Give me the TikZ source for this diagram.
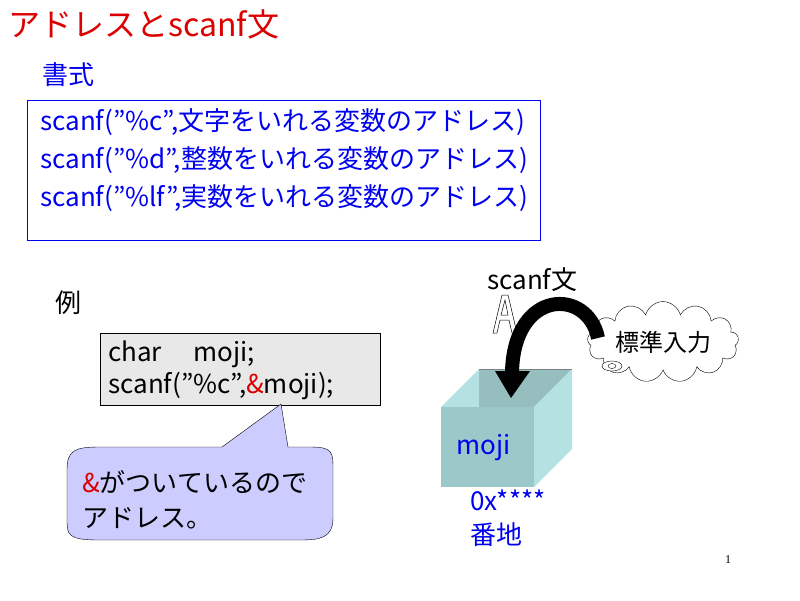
\documentclass[tikz,border=0pt]{standalone}
\usepackage{fontspec}
\setmainfont{Noto Sans CJK JP}
\newfontfamily\numfont{Liberation Serif}
\usepackage{tikz}
\usetikzlibrary{
	shapes.symbols,
	% positioning,
}
\definecolor{slideblue}{RGB}{0,0,240}
\definecolor{slidered}{RGB}{220,0,0}
\definecolor{boxfront}{RGB}{155,200,200}
\definecolor{boxback}{RGB}{150,190,190}
\definecolor{boxside}{RGB}{180,225,225}
\newcommand{\dq}{\symbol{34}}
\tikzstyle{txt} = [anchor=west, inner sep=0pt, font=\fontsize{26}{30}\selectfont]
\tikzstyle{bluetxt} = [txt, text=slideblue]

\begin{document}
\begin{tikzpicture}[x=1pt, y=-1pt]
	\useasboundingbox (0,0) rectangle (800,600);

	% title and format
	\node[txt, text=slidered, font=\fontsize{32}{36}\selectfont] (title) at (8,24) {アドレスとscanf文};
	\node[bluetxt] (shoshiki) at (42,75) {書式};
	\draw[slideblue] (27,100) rectangle (540,240);
	\node[bluetxt] (fmtc) at (40,122) {scanf(\dq\%c\dq,文字をいれる変数のアドレス)};
	\node[bluetxt] (fmtd) at (40,160) {scanf(\dq\%d\dq,整数をいれる変数のアドレス)};
	\node[bluetxt] (fmtlf) at (40,198) {scanf(\dq\%lf\dq,実数をいれる変数のアドレス)};

	% example code
	\node[txt] (rei) at (55,303) {例};
	\draw[fill=black!9] (100,333) rectangle (380,405);
	\node[txt] (code1) at (108,354) {char\hspace{1em} moji;};
	\node[txt] (code2) at (108,386) {scanf(\dq\%c\dq,\textcolor{slidered}{\&}moji);};

	% callout
	\draw[fill=blue!20] (222,447) -- (281,404) -- (288,447)
		-- (310,447) .. controls (333,447) and (333,452) .. (333,470)
		-- (333,518) .. controls (333,538) and (320,540) .. (300,540)
		-- (100,540) .. controls (67,540) and (67,535) .. (67,518)
		-- (67,470) .. controls (67,450) and (75,447) .. (100,447) -- cycle;
	\node[txt] (note1) at (82,482) {\textcolor{slidered}{\&}がついているので};
	\node[txt] (note2) at (82,518) {アドレス。};

	% variable box
	\fill[boxback] (479,369) -- (572,369) -- (534,407) -- (479,407) -- cycle;
	\fill[boxside] (441,407) -- (479,369) -- (479,407) -- cycle;
	\fill[boxside] (534,407) -- (572,369) -- (572,449) -- (534,487) -- cycle;
	\fill[boxfront] (441,407) rectangle (534,487);
	\draw[gray] (479,369) -- (572,369);
	\node[bluetxt] (moji) at (456,448) {moji};
	\node[bluetxt] (addr) at (470,500) {0x****};
	\node[bluetxt] (banchi) at (470,535) {番地};

	% input
	\node[txt] (scanfbun) at (487,280) {scanf文};
	\draw[black, line width=0.5pt] (493,333) -- (502,295) -- (508,295) -- (517,333) -- (512,333)
		-- (509,320) -- (500,320) -- (497,333) -- cycle
		(501,315) -- (505,300) -- (508,315) -- cycle;
	\node[cloud, draw, fill=white, cloud puffs=13, aspect=2.6, minimum width=150pt, minimum height=58pt,
		font=\fontsize{24}{28}\selectfont] (stdin) at (663,342) {標準入力};
	\draw[fill=white] (612,366) ellipse (10 and 5);
	\draw (612,366) ellipse (4 and 2.5);
	\coordinate (tail) at (598,338);
	\coordinate (head) at (512,372);
	\draw[line width=14pt] (tail) .. controls (588,288) and (514,288) .. (head);
	\fill (495,371) -- (530,371) -- (511,398) -- cycle;

	\node[font=\numfont\fontsize{12}{14}\selectfont] (pageno) at (728,560) {1};
\end{tikzpicture}
\end{document}
